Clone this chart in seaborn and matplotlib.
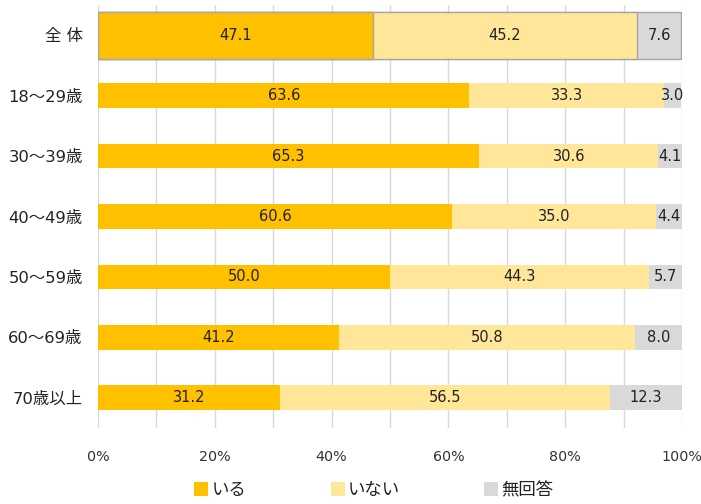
import matplotlib
matplotlib.use("Agg")
import matplotlib.pyplot as plt
import seaborn as sns
import pandas as pd
from matplotlib.lines import Line2D

# Survey results by age group (percent)
groups = ["全 体", "18～29歳", "30～39歳", "40～49歳", "50～59歳", "60～69歳", "70歳以上"]
iru = [47.1, 63.6, 65.3, 60.6, 50.0, 41.2, 31.2]
inai = [45.2, 33.3, 30.6, 35.0, 44.3, 50.8, 56.5]
mukaitou = [7.6, 3.0, 4.1, 4.4, 5.7, 8.0, 12.3]
series_names = ["いる", "いない", "無回答"]
colors = ["#FFC000", "#FFE699", "#D9D9D9"]
xticks = [0, 20, 40, 60, 80, 100]

sns.set_theme(style="white")
plt.rcParams["font.family"] = ["DejaVu Sans", "Noto Sans CJK JP"]

df = pd.DataFrame({"group": groups, "iru": iru, "inai": inai, "muk": mukaitou})
df["c1"] = df["iru"]
df["c2"] = df["iru"] + df["inai"]
df["c3"] = df["c2"] + df["muk"]

fig = plt.figure(figsize=(7.01, 5.04), dpi=100)
ax = fig.add_axes([98 / 701, 1 - 428 / 504, 584 / 701, 423 / 504])

bar_w = 0.41
top_w = 0.78
# Stacked bars drawn as overlapping cumulative totals (back to front)
layers = [("c3", colors[2]), ("c2", colors[1]), ("c1", colors[0])]
for col, colr in layers:
    n0 = len(ax.patches)
    sns.barplot(data=df, x=col, y="group", order=groups, color=colr,
                orient="h", width=bar_w, ax=ax, saturation=1, linewidth=0)
    new = ax.patches[n0:]
    for i, p in enumerate(new):
        if i == 0:
            cy = p.get_y() + p.get_height() / 2
            p.set_height(top_w)
            p.set_y(cy - top_w / 2)
            p.set_edgecolor("#A6A6A6")
            p.set_linewidth(1.0)

# Value labels centered on each segment
for i in range(len(groups)):
    starts = [0, df["c1"][i], df["c2"][i]]
    vals = [iru[i], inai[i], mukaitou[i]]
    for s, v in zip(starts, vals):
        ax.text(s + v / 2, i, f"{v:.1f}", ha="center", va="center",
                fontsize=10.5, color="#222222")

ax.set_xlim(0, 100)
ax.set_ylim(6.5, -0.5)
ax.set_xticks(xticks)
ax.set_xticklabels([f"{t}%" for t in xticks])
ax.set_xticks(range(10, 100, 20), minor=True)
ax.grid(axis="x", which="both", color="#D9D9D9", linewidth=1)
ax.set_axisbelow(True)
for s in ax.spines.values():
    s.set_visible(False)
ax.set_xlabel("")
ax.set_ylabel("")
ax.tick_params(axis="x", which="both", length=0, pad=16, labelsize=10.3, labelcolor="#333333")
ax.tick_params(axis="y", length=0, pad=11, labelsize=11.8, labelcolor="#222222")

handles = [Line2D([0], [0], marker="s", linestyle="none", markersize=9.5,
                  markerfacecolor=c, markeredgewidth=0) for c in colors]
fig.legend(handles, series_names, loc="center", bbox_to_anchor=(374 / 701, 1 - 490 / 504),
           ncol=3, frameon=False, fontsize=12.5, handlelength=0.8, handletextpad=0.2,
           columnspacing=4.85, labelcolor="#222222")

fig.savefig("out.png", dpi=100)
